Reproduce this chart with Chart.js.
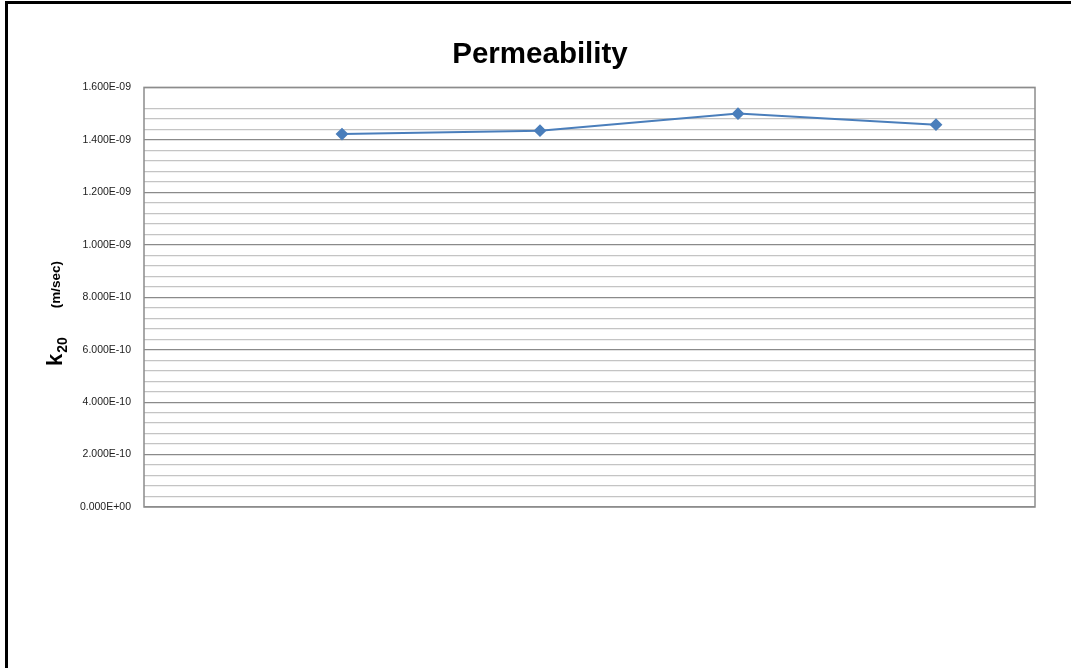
<!DOCTYPE html>
<html>
<head>
<meta charset="utf-8">
<script src="https://cdn.jsdelivr.net/npm/chart.js@4"></script>
<style>
  html,body{margin:0;padding:0;background:#fff;}
  #wrap{width:1071px;height:668px;position:relative;}
</style>
</head>
<body>
<div id="wrap"><canvas id="myChart"></canvas></div>
<script>
const ctx=document.getElementById("myChart");

// data
const xValues=[1,2,3,4];
const yValues=[1.422e-9,1.435e-9,1.500e-9,1.458e-9];
const yMin=0;
const yMax=1.6e-9;
const yStep=4e-11;     // minor grid
const yMajor=2e-10;    // labelled lines
const titleText="Permeability";
const axisMain="k";
const axisSub="20";
const axisUnit="(m/sec)";

function sciLabel(v){
    let parts=v.toExponential(3).split("e");
    let e=Number(parts[1]);
    let sign=e<0?"-":"+";
    let digits=String(Math.abs(e)).padStart(2,"0");
    return parts[0]+"E"+sign+digits;
}

function isMajor(v){
    return Math.round(v/yStep)%Math.round(yMajor/yStep)===0;
}

const framePlugin={
    id:"frame",
    beforeDraw(chart){
        const c=chart.ctx;
        c.save();
        c.fillStyle="#fff";
        c.fillRect(0,0,chart.width,chart.height);
        c.fillStyle="#000";
        c.fillRect(5,1,chart.width-5,3);
        c.fillRect(5,1,3,chart.height);
        c.restore();
    },
    afterDatasetsDraw(chart){
        // box round the plot area
        const a=chart.chartArea;
        const c=chart.ctx;
        c.save();
        c.strokeStyle="#8c8c8c";
        c.lineWidth=1.5;
        c.strokeRect(a.left,a.top,a.right-a.left,a.bottom-a.top);
        c.restore();
    },
    afterDraw(chart){
        // y axis title with subscript
        const c=chart.ctx;
        c.save();
        c.translate(62,366);
        c.rotate(-Math.PI/2);
        c.fillStyle="#000";
        c.textBaseline="alphabetic";
        c.font="bold 22px 'Liberation Sans', Arial, sans-serif";
        c.fillText(axisMain,0,0);
        let w=c.measureText(axisMain).width;
        c.font="bold 14px 'Liberation Sans', Arial, sans-serif";
        c.fillText(axisSub,w+1,5);
        let w2=c.measureText(axisSub).width;
        c.font="bold 13.5px 'Liberation Sans', Arial, sans-serif";
        c.fillText(axisUnit,w+w2+30,-2);
        c.restore();
    }
};

const myChart=new Chart(ctx,{
    type:"scatter",
    data:{
        datasets:[{
            data:xValues.map((x,i)=>({x:x,y:yValues[i]})),
            showLine:true,
            borderColor:"#4a7ebb",
            backgroundColor:"#4a7ebb",
            borderWidth:2,
            pointStyle:"rectRot",
            pointRadius:5,
            pointHoverRadius:5
        }]
    },
    plugins:[framePlugin],
    options:{
        responsive:true,
        maintainAspectRatio:false,
        animation:false,
        layout:{padding:{left:45,right:36,bottom:161,top:0}},
        plugins:{
            legend:{display:false},
            tooltip:{enabled:false},
            title:{
                display:true,
                text:titleText,
                color:"#000",
                font:{family:"'Liberation Sans', Arial, sans-serif",size:29.5,weight:"bold"},
                padding:{top:37,bottom:15}
            }
        },
        scales:{
            x:{
                type:"linear",
                min:0,
                max:4.5,
                display:false
            },
            y:{
                min:yMin,
                max:yMax,
                afterFit(scale){scale.width=99;},
                border:{display:false},
                grid:{
                    drawTicks:false,
                    lineWidth:1.2,
                    color:(c)=>isMajor(c.tick.value)?"#8a8a8a":"#c4c4c4"
                },
                ticks:{
                    stepSize:yStep,
                    autoSkip:false,
                    padding:13,
                    color:"#222",
                    font:{family:"'Liberation Sans', Arial, sans-serif",size:10.5},
                    callback:(v)=>isMajor(v)?sciLabel(v):""
                }
            }
        }
    }
});
</script>
</body>
</html>
